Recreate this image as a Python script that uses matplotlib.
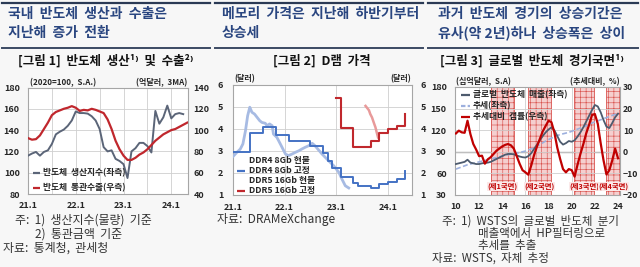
import matplotlib
matplotlib.use('Agg')
import matplotlib.pyplot as plt
from matplotlib.lines import Line2D
import numpy as np

plt.rcParams['font.family'] = ['Noto Sans CJK KR', 'DejaVu Sans']
plt.rcParams['hatch.linewidth'] = 0.45

# ---------------- data ----------------
# Panel 1: monthly from 2021.1
p1_xticklabels = ['21.1', '22.1', '23.1', '24.1']
prod_index = [116, 118, 119.5, 116, 119.5, 121, 127, 136, 138.5, 140.5, 144, 149,
              157.5, 156, 156, 155.5, 153, 149, 141, 124, 120, 121, 113, 111,
              108, 95, 120, 123, 128, 128, 125, 119, 158, 146, 152, 163,
              151, 155, 156, 155]
exports = [92.5, 91, 91.5, 95, 101, 107, 114, 117, 118.5, 120, 121, 122.5,
           121, 118, 119, 118.5, 120, 119, 117.5, 116, 110, 101, 90, 82,
           76, 72, 72, 74, 77, 79, 82, 86, 90, 93, 96, 98,
           100, 101, 103, 105, 107]

# Panel 2: DRAM prices (months from 2021.1)
p2_xticklabels = ['21.1', '22.1', '23.1', '24.1']
ddr4_spot_m = [0, 0.9, 1.7, 2.3, 2.9, 3.4, 3.9, 4.4, 5.0, 5.6, 6.2, 6.7, 7.5, 7.9,
               8.5, 9.1, 9.4, 10.2, 11.0, 11.6, 12.2, 12.9, 13.7, 14.5, 15.3, 16.0,
               16.8, 17.6, 18.4, 19.0, 19.7, 20.7, 22.2, 23.4, 24.6, 25.3, 26.1, 26.9]
ddr4_spot = [2.75, 2.94, 3.09, 3.32, 3.92, 4.6, 4.99, 4.76, 4.68, 4.53, 4.38, 4.3,
             4.26, 4.15, 4.23, 4.15, 3.77, 3.62, 3.32, 3.09, 2.86, 2.79, 2.86, 2.94,
             3.01, 3.09, 3.17, 3.24, 3.35, 3.25, 3.09, 2.86, 2.56, 2.33, 2.03, 1.73,
             1.42, 1.32]
ddr4_fixed = [2.95, 2.95, 2.95, 2.95, 3.8, 3.8, 3.8, 4.1, 4.1, 4.1, 3.71, 3.71, 3.71,
              3.45, 3.45, 3.45, 3.45, 3.45, 3.25, 3.25, 3.25, 2.9, 2.55, 2.25, 2.25,
              1.8, 1.8, 1.8, 1.55, 1.42, 1.42, 1.42, 1.32, 1.32, 1.5, 1.5, 1.6, 1.6,
              1.72, 1.72, 2.1]
ddr5_spot_m = [30.8, 31.2, 31.6, 31.9, 32.3, 32.7, 33.1, 33.5, 33.7]
ddr5_spot = [5.05, 4.95, 4.85, 4.68, 4.53, 4.3, 4.08, 3.77, 3.62]
ddr5_fixed_start = 24
ddr5_fixed = [5.4, 4.05, 4.05, 4.05, 3.2, 3.2, 3.2, 3.2, 3.44, 3.44, 3.8, 3.8,
              3.98, 3.98, 4.12, 4.12, 4.68]

# Panel 3: quarterly from 2010Q1
p3_xticklabels = ['10', '12', '14', '16', '18', '20', '22', '24']
sales = [73, 74, 75, 76, 79, 75, 74, 73, 73, 74, 74.5, 75, 76, 78, 80, 82,
         84, 86, 87, 87, 86.5, 85, 83.5, 82.5, 82, 84, 88, 94, 100, 106, 112, 117,
         121, 124, 120, 112, 104, 100, 102, 105, 104, 106, 111, 117, 124, 132, 140, 148,
         155, 153, 145, 134, 125, 123, 130, 138, 143]
trend = [66, 67.5, 69, 70.5, 72, 73, 74, 75, 76, 77, 78, 79, 80, 81, 82, 83,
         84, 85, 86, 86.8, 87.5, 88.2, 89, 90, 91, 92.5, 94, 96, 98, 100, 102.5, 105,
         107, 109, 111, 112.5, 114, 115, 116, 117, 118.5, 120, 121.5, 123, 124.5, 126, 128, 130,
         131.5, 133, 134.5, 136, 137.5, 139, 140.5, 142, 143]
gap = [8.5, 9.8, 9.0, 8.8, 14.4, 8.2, 3.6, 1.0, -2.0, -1.8, -5.5, -3.5, -2.5, -1.0, 0.5, 1.5,
       2.5, 3.2, 3.6, 3.0, 1.5, -2.0, -5.5, -8.5, -9.5, -10.6, -6.4, -1.5, 2.5, 6.0, 9.5, 12.0,
       14.4, 13.7, 9.0, 2.0, -3.3, -8.0, -9.5, -8.0, -8.5, -11.5, -6.0, -1.0, 3.5, 8.5, 12.5, 17.0,
       17.5, 13.0, 4.0, -4.0, -10.5, -8.5, -4.0, 1.5, -3.0]
phase_start = [13.0, 16.2, 20.2, 23.0]
phase_end = [15.0, 18.2, 21.9, 24.3]
phase_labels = ['(제1국면)', '(제2국면)', '(제3국면)', '(제4국면)']
phase_label_x = [14.0, 17.2, 21.1, 23.6]

# ---------------- figure ----------------
W, H = 640, 267
fig = plt.figure(figsize=(6.4, 2.67), dpi=100)
fig.patch.set_facecolor('#F7F7F7')


def add_ax(l, t, r, b):
    return fig.add_axes([l / W, 1 - b / H, (r - l) / W, (b - t) / H])


def ftext(x, y, s, **kw):
    return fig.text(x / W, 1 - y / H, s, **kw)


def fline(x0, x1, y, **kw):
    fig.add_artist(Line2D([x0 / W, x1 / W], [1 - y / H, 1 - y / H],
                          transform=fig.transFigure, **kw))


def leg_entry(x0, x1, y, tx, label, color, ls='-', lw=1.6):
    if color is not None:
        fline(x0, x1, y, color=color, lw=lw, ls=ls, solid_capstyle='butt')
    ftext(tx, y, label, fontsize=6.3, fontweight='bold', color='#262626',
          va='center', ha='left')


TITLE_C = '#2A4680'
TICK_KW = dict(fontsize=6.5, fontweight='bold', color='#262626')
GRID_C = '#CFCFCF'
SPINE_C = '#A6A6A6'

# header lines & titles
for (a, b) in [(2, 210), (215, 423), (428, 638)]:
    fline(a, b, 3, color='#2B3A55', lw=1.6)
    fline(a, b, 48, color='#3B4A63', lw=1.4)

ftext(8, 14, '국내  반도체  생산과  수출은', fontsize=10, fontweight='bold', color=TITLE_C, va='center')
ftext(8, 33, '지난해  증가  전환', fontsize=10, fontweight='bold', color=TITLE_C, va='center')
ftext(222, 14, '메모리  가격은  지난해  하반기부터', fontsize=10, fontweight='bold', color=TITLE_C, va='center')
ftext(222, 33, '상승세', fontsize=10, fontweight='bold', color=TITLE_C, va='center')
ftext(438, 14, '과거  반도체  경기의  상승기간은', fontsize=10, fontweight='bold', color=TITLE_C, va='center')
ftext(438, 33, '유사(약 2년)하나  상승폭은  상이', fontsize=10, fontweight='bold', color=TITLE_C, va='center')

ftext(106, 61, '[그림 1]  반도체  생산¹⁾  및  수출²⁾', fontsize=9, fontweight='bold', color='#111111',
      ha='center', va='center')
ftext(322, 61, '[그림 2]  D램  가격', fontsize=9, fontweight='bold', color='#111111',
      ha='center', va='center')
ftext(532, 61, '[그림 3]  글로벌  반도체  경기국면¹⁾', fontsize=9, fontweight='bold', color='#111111',
      ha='center', va='center')


def style_ax(ax):
    ax.set_facecolor('white')
    for s in ax.spines.values():
        s.set_color(SPINE_C)
        s.set_linewidth(0.8)
    ax.tick_params(length=0)


# ---------------- Panel 1 ----------------
ax1 = add_ax(28, 87.5, 188, 194)
style_ax(ax1)
x_prod = np.arange(len(prod_index))
x_exp = np.arange(len(exports))
ax1.set_xlim(0, 40.2)
ax1.set_ylim(80, 180)
ax1.set_yticks([80, 100, 120, 140, 160, 180])
ax1.set_xticks([0, 12, 24, 36])
ax1.set_xticklabels(p1_xticklabels)
ax1.set_xticks([6, 18, 30], minor=True)
ax1.grid(True, which='both', color=GRID_C, lw=0.6)
ax1.tick_params(axis='y', pad=6)
ax1.tick_params(axis='x', pad=5, which='both', length=0)
for t in ax1.get_xticklabels() + ax1.get_yticklabels():
    t.set(**TICK_KW)
ax1.plot(x_prod, prod_index, color='#5B6578', lw=1.4, zorder=3)
ax1r = ax1.twinx()
ax1r.set_ylim(40, 140)
ax1r.set_yticks([40, 60, 80, 100, 120, 140])
ax1r.tick_params(length=0, pad=4)
for s in ax1r.spines.values():
    s.set_visible(False)
for t in ax1r.get_yticklabels():
    t.set(**TICK_KW)
ax1r.plot(x_exp, exports, color='#C0272D', lw=1.6, zorder=3)
ftext(30, 83, '(2020=100,  S.A.)', fontsize=5.8, fontweight='bold', color='#262626', va='center')
ftext(187, 83, '(억달러,  3MA)', fontsize=5.8, fontweight='bold', color='#262626', va='center', ha='right')
leg_entry(33, 40, 173, 43, '반도체  생산지수(좌측)', '#5B6578')
leg_entry(33, 40, 188, 43, '반도체  통관수출(우측)', '#C0272D')

ftext(15, 220, '주:  1)  생산지수(물량)  기준', fontsize=8.6, color='#333333', va='center')
ftext(35, 234, '2)  통관금액  기준', fontsize=8.6, color='#333333', va='center')
ftext(3, 248, '자료:  통계청,  관세청', fontsize=8.6, color='#333333', va='center')

# ---------------- Panel 2 ----------------
ax2 = add_ax(233, 85, 412, 195)
style_ax(ax2)
ax2.set_xlim(0, 41.6)
ax2.set_ylim(1, 6)
ax2.set_yticks([1, 2, 3, 4, 5, 6])
ax2.set_xticks([0, 12, 24, 36])
ax2.set_xticklabels(p2_xticklabels)
ax2.grid(True, color=GRID_C, lw=0.6)
ax2.tick_params(axis='y', pad=7)
ax2.tick_params(axis='x', pad=6)
for t in ax2.get_xticklabels() + ax2.get_yticklabels():
    t.set(**TICK_KW)
ax2.plot(ddr4_spot_m, ddr4_spot, color='#A7BBE3', lw=2.0, zorder=3)
ax2.step(np.arange(len(ddr4_fixed)), ddr4_fixed, where='post', color='#4472C4', lw=1.4, zorder=4)
ax2.plot(ddr5_spot_m, ddr5_spot, color='#E89A9A', lw=1.8, zorder=3)
ax2.step(ddr5_fixed_start + np.arange(len(ddr5_fixed)), ddr5_fixed, where='post',
         color='#C0282D', lw=1.5, zorder=4)
ax2r = ax2.twinx()
ax2r.set_ylim(1, 6)
ax2r.set_yticks([1, 2, 3, 4, 5, 6])
ax2r.tick_params(length=0, pad=6)
for s in ax2r.spines.values():
    s.set_visible(False)
for t in ax2r.get_yticklabels():
    t.set(**TICK_KW)
ftext(234, 79, '(달러)', fontsize=5.8, fontweight='bold', color='#262626', va='center')
ftext(411, 79, '(달러)', fontsize=5.8, fontweight='bold', color='#262626', va='center', ha='right')
leg_entry(237, 245, 160, 249, 'DDR4 8Gb 현물', None)
leg_entry(237, 245, 170.5, 249, 'DDR4 8Gb 고정', '#4472C4')
leg_entry(237, 245, 181, 249, 'DDR5 16Gb 현물', None)
leg_entry(237, 245, 191, 249, 'DDR5 16Gb 고정', '#C0282D')
ftext(217, 220, '자료:  DRAMeXchange', fontsize=8.6, color='#333333', va='center')

# ---------------- Panel 3 ----------------
ax3 = add_ax(455, 87, 620, 195)
style_ax(ax3)
xq = 10 + 0.25 * np.arange(len(sales))
ax3.set_xlim(9.92, 24.17)
ax3.set_ylim(30, 180)
ax3.set_yticks([30, 60, 90, 120, 150, 180])
ax3.set_xticks([10, 12, 14, 16, 18, 20, 22, 24])
ax3.set_xticklabels(p3_xticklabels)
ax3.grid(True, axis='y', color=GRID_C, lw=0.6)
for gx in [12, 16, 20]:
    ax3.axvline(gx, color=GRID_C, lw=0.6, zorder=0)
ax3.axhline(90, color='#6E6E6E', lw=0.9, zorder=1)
ax3.tick_params(axis='y', pad=6)
ax3.tick_params(axis='x', pad=5)
for t in ax3.get_xticklabels() + ax3.get_yticklabels():
    t.set(**TICK_KW)
for s0, s1 in zip(phase_start, phase_end):
    ax3.axvspan(s0, s1, facecolor='#F5CFCF', edgecolor='#D9534F', hatch='+++',
                lw=0.6, zorder=1)
for lx, lab in zip(phase_label_x, phase_labels):
    ax3.text(lx, 42, lab, fontsize=5.3, fontweight='bold', color='#C00000', ha='center',
             va='center', zorder=6,
             bbox=dict(facecolor='#FBE9E9', edgecolor='none', pad=0.3))
ax3.plot(xq, trend, color='#9DB0DE', lw=1.2, ls=(0, (3, 1.5)), zorder=3)
ax3.plot(xq, sales, color='#4D5B6E', lw=1.3, zorder=4)
ax3r = ax3.twinx()
ax3r.set_ylim(-20, 30)
ax3r.set_yticks([-20, -10, 0, 10, 20, 30])
ax3r.tick_params(length=0, pad=2)
for s in ax3r.spines.values():
    s.set_visible(False)
for t in ax3r.get_yticklabels():
    t.set(fontsize=6.2, fontweight='bold', color='#262626')
ax3r.plot(xq, gap, color='#C00000', lw=1.6, zorder=5)
ftext(456, 82, '(십억달러,  S.A)', fontsize=5.8, fontweight='bold', color='#262626', va='center')
ftext(620, 82, '(추세대비,  %)', fontsize=5.8, fontweight='bold', color='#262626', va='center', ha='right')
leg_entry(461, 470, 95, 473, '글로벌  반도체  매출(좌측)', '#4D5B6E')
leg_entry(461, 470, 106, 473, '추세(좌측)', '#9DB0DE', ls=(0, (2, 1)))
leg_entry(461, 470, 117, 473, '추세대비  갭률(우측)', '#C00000')

ftext(442, 221, '주:  1)  WSTS의  글로벌  반도체  분기', fontsize=8.3, color='#333333', va='center')
ftext(478, 233, '매출액에서  HP필터링으로', fontsize=8.3, color='#333333', va='center')
ftext(478, 245, '추세를  추출', fontsize=8.3, color='#333333', va='center')
ftext(432, 258, '자료:  WSTS,  자체  추정', fontsize=8.3, color='#333333', va='center')

fig.savefig('out.png', dpi=100, facecolor=fig.get_facecolor())
